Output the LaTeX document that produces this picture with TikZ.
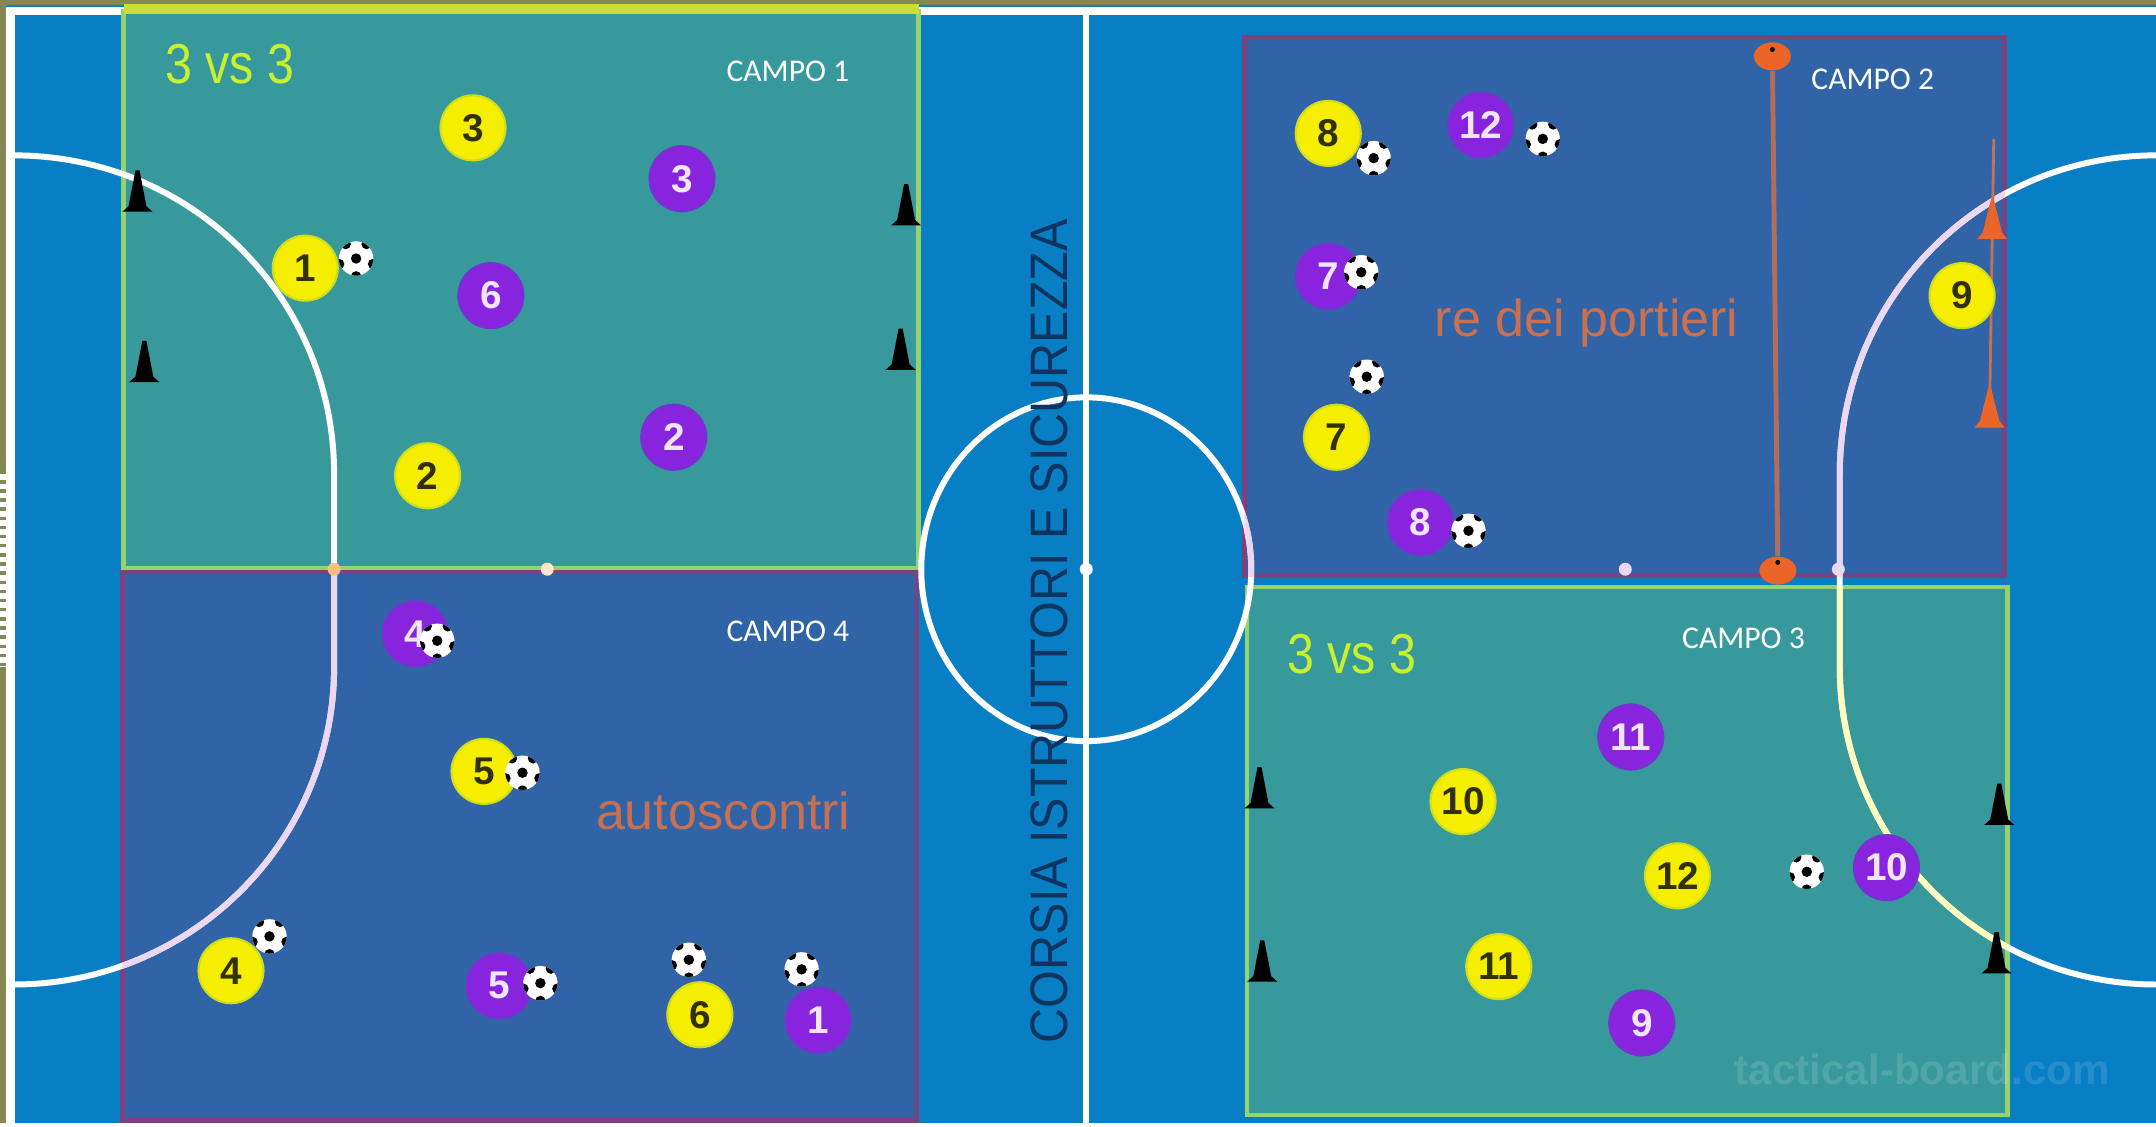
\documentclass[tikz,border=0pt]{standalone}
\usepackage{fontspec}
\usepackage{xcolor}
\usepackage{tikz}
\usetikzlibrary{shapes.geometric}
\setmainfont{Liberation Sans}
\newfontfamily\campofont{Carlito}
\definecolor{pitchblue}{RGB}{8,126,196}
\definecolor{campoteal}{RGB}{56,153,156}
\definecolor{campoblue}{RGB}{48,100,166}
\definecolor{edgegreen}{RGB}{150,210,110}
\definecolor{edgeplum}{RGB}{125,65,125}
\definecolor{lineolive}{RGB}{135,135,85}
\definecolor{linepink}{RGB}{235,215,240}
\definecolor{playeryellow}{RGB}{245,238,0}
\definecolor{playerpurple}{RGB}{136,36,222}
\definecolor{coneorange}{RGB}{235,100,40}
\definecolor{textorange}{RGB}{200,112,80}
\definecolor{textnavy}{RGB}{16,52,96}
\definecolor{vsyellow}{RGB}{200,240,50}
\newcommand{\narrowtext}[2]{\scalebox{#1}[1]{#2}}
\tikzset{
  campogreen/.style={draw=edgegreen, line width=1.3pt, fill=campoteal},
  campoplum/.style={draw=edgeplum, line width=1.3pt, fill=campoblue},
  fieldline/.style={draw=white, line width=1.7pt},
  pinkline/.style={draw=linepink, line width=1.7pt},
  yplayer/.style={circle, fill=playeryellow, draw=playeryellow!80!campoteal, line width=.6pt,
    minimum size=.65cm, inner sep=0pt, text=black!80!playeryellow, font=\fontsize{11}{11}\selectfont\bfseries},
  pplayer/.style={circle, fill=playerpurple, draw=playerpurple!80!campoblue, line width=.6pt,
    minimum size=.65cm, inner sep=0pt, text=white!88!playerpurple, font=\fontsize{11}{11}\selectfont\bfseries},
  campolabel/.style={text=white, font=\campofont\fontsize{9}{9}\selectfont, inner sep=0pt},
  vslabel/.style={text=vsyellow, font=\fontsize{16}{16}\selectfont, inner sep=0pt},
  gamelabel/.style={text=textorange, font=\fontsize{14.8}{15}\selectfont, inner sep=0pt},
  marker/.style={circle, inner sep=0pt, minimum size=.13cm},
  gatepost/.style={ellipse, fill=coneorange, minimum width=.37cm, minimum height=.28cm, inner sep=0pt},
  ball/.pic={
    \fill[white] (0,0) circle (12.5);
    \begin{scope}
      \clip (0,0) circle (12.5);
      \fill[black] (0,0) circle (3.8);
      \foreach \a in {90,162,234,306,18} {\fill[black] (\a:13) circle (3.8);}
    \end{scope}
  },
  blackcone/.pic={
    \fill[black] (-1.5,-16) -- (1.5,-16) -- (6.5,10) -- (11,14) -- (-11,14) -- (-6.5,10) -- cycle;
  },
  orangecone/.pic={
    \fill[coneorange] (-1,-15) -- (1,-15) -- (7,9) -- (11,14) -- (-11,14) -- (-7,9) -- cycle;
  }
}

\begin{document}
\begin{tikzpicture}[x=0.01375cm, y=-0.01375cm]
    \useasboundingbox (0,0) rectangle (1568,819);
    \fill[pitchblue] (0,0) rectangle (1568,819);
    \fill[lineolive] (0,0) rectangle (1568,3.5);
    \fill[lineolive] (0,0) rectangle (4.4,819);
    \fill[white] (4.4,5) rectangle (1568,11);
    \fill[white] (4.4,5) rectangle (11,819);
    \fill[white] (0,816.5) rectangle (1568,819);
    \draw[white, line width=1.6pt, densely dotted] (2,345) -- (2,485);
    % campi
    \draw[campogreen] (90,8) rectangle (668,413);
    \draw[campoplum] (89,416) rectangle (667,815);
    \draw[campoplum] (905,27) rectangle (1458,419);
    \draw[campogreen] (907,427) rectangle (1460,811);
    \fill[playeryellow!50!edgegreen] (90,3) rectangle (668,10);
    % linee
    \draw[fieldline] (790,8) -- (790,819);
    \draw[fieldline] (790,414) ellipse (120 and 125);
    \draw[fieldline] (10,113) .. controls (139,113) and (243,216) .. (243,345) -- (243,485) .. controls (243,612) and (139,716) .. (10,716);
    \draw[fieldline] (1568,113) .. controls (1441,113) and (1338,216) .. (1338,345) -- (1338,485) .. controls (1338,612) and (1441,716) .. (1568,716);
    \begin{scope}
      \clip (89,416) rectangle (667,815);
      \draw[pinkline] (243,345) -- (243,485) .. controls (243,612) and (139,716) .. (10,716);
    \end{scope}
    \begin{scope}
      \clip (905,27) rectangle (1458,419);
      \draw[pinkline] (1568,113) .. controls (1441,113) and (1338,216) .. (1338,345) -- (1338,485);
      \draw[pinkline] (790,414) ellipse (120 and 125);
    \end{scope}
    \begin{scope}
      \clip (907,427) rectangle (1460,811);
      \draw[fieldline, draw=yellow!25!white] (1338,345) -- (1338,485) .. controls (1338,612) and (1441,716) .. (1568,716);
    \end{scope}
    \node[marker, fill=white] (centre) at (790,414) {};
    % corsia
    \node[rotate=90, text=textnavy, font=\fontsize{15}{15}\selectfont, inner sep=0pt] (corsia) at (763,459) {\narrowtext{.92}{CORSIA ISTRUTTORI E SICUREZZA}};
    % testi
    \node[vslabel] (vsuno) at (167,47) {\narrowtext{.86}{3 vs 3}};
    \node[vslabel] (vstre) at (983,476) {\narrowtext{.86}{3 vs 3}};
    \node[campolabel] (campouno) at (573,52) {CAMPO 1};
    \node[campolabel] (campoquattro) at (573,459) {CAMPO 4};
    \node[campolabel] (campodue) at (1362,58) {CAMPO 2};
    \node[campolabel] (campotre) at (1268,464) {CAMPO 3};
    \node[gamelabel] (portieri) at (1154,235) {re dei portieri};
    \node[gamelabel] (autoscontri) at (526,590) {autoscontri};
    \node[text=white, text opacity=.13, font=\fontsize{12}{12}\selectfont\bfseries, inner sep=0pt] (watermark) at (1398,778) {tactical-board.com};
    % segnaposti
    \node[marker, fill=orange!50!white] (dotone) at (243,414) {};
    \node[marker, fill=white!80!orange] (dottwo) at (398,414) {};
    \node[marker, fill=linepink] (dotthree) at (1182,414) {};
    \node[marker, fill=linepink] (dotfour) at (1337,414) {};
    % porticina
    \coordinate (linetop) at (1450,101);
    \coordinate (linebottom) at (1447,297);
    \draw[textorange, line width=.8pt] (linetop) -- (linebottom);
    \node[gatepost] (gatetop) at (1289,41) {};
    \node[gatepost] (gatebottom) at (1293,415) {};
    \draw[textorange!85!campoblue, line width=1.4pt] (gatetop) -- (gatebottom);
    \node[marker, fill=black, minimum size=.05cm] (marktop) at (1289,36) {};
    \node[marker, fill=black, minimum size=.05cm] (markbottom) at (1293,409) {};
    \foreach \p in {(1449,160),(1447,297)} {\pic at \p {orangecone};}
    \foreach \p in {(100,140),(105,264),(659,150),(655,255),(916,574),(918,700),(1454,586),(1452,694)} {\pic at \p {blackcone};}
    % giocatori
    \node[yplayer] (y1) at (222,195) {1};
    \node[yplayer] (y2) at (311,346) {2};
    \node[yplayer] (y3) at (344,93) {3};
    \node[yplayer] (y4) at (168,706) {4};
    \node[yplayer] (y5) at (352,561) {5};
    \node[yplayer] (y6) at (509,738) {6};
    \node[yplayer] (y7) at (972,318) {7};
    \node[yplayer] (y8) at (966,97) {8};
    \node[yplayer] (y9) at (1427,215) {9};
    \node[yplayer] (y10) at (1064,583) {10};
    \node[yplayer] (y11) at (1090,703) {11};
    \node[yplayer] (y12) at (1220,637) {12};
    \node[pplayer] (p1) at (595,742) {1};
    \node[pplayer] (p2) at (490,318) {2};
    \node[pplayer] (p3) at (496,130) {3};
    \node[pplayer] (p4) at (302,461) {4};
    \node[pplayer] (p5) at (363,717) {5};
    \node[pplayer] (p6) at (357,215) {6};
    \node[pplayer] (p7) at (966,201) {7};
    \node[pplayer] (p8) at (1033,380) {8};
    \node[pplayer] (p9) at (1194,744) {9};
    \node[pplayer] (p10) at (1372,631) {10};
    \node[pplayer] (p11) at (1186,536) {11};
    \node[pplayer] (p12) at (1077,91) {12};
    % palloni
    \foreach \p in {(259,188),(318,466),(380,562),(196,681),(393,715),(501,698),(583,705),(999,115),(1122,101),(990,198),(994,274),(1068,386),(1314,634)} {\pic at \p {ball};}
\end{tikzpicture}
\end{document}
